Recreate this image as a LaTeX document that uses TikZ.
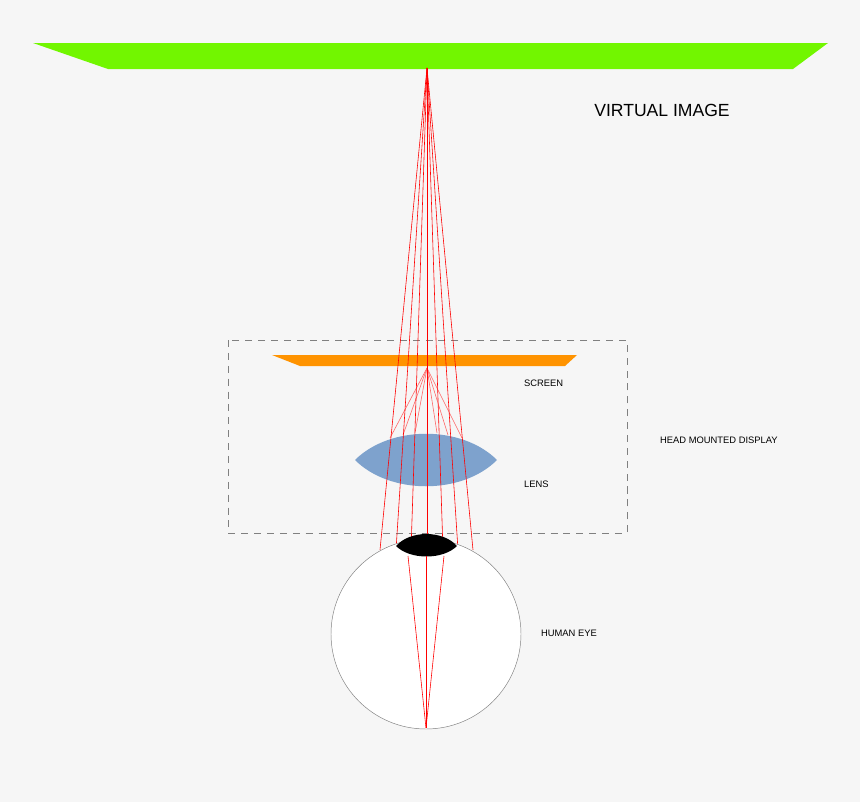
\documentclass[tikz,border=0pt]{standalone}
\usepackage{fontspec}
\setmainfont{Liberation Sans}
\tikzset{ray/.style={red,line width=0.5pt}, fan/.style={red!60,line width=0.5pt}, lbl/.style={font=\fontsize{8pt}{9pt}\selectfont}}
\begin{document}
\begin{tikzpicture}[x=0.03cm,y=-0.03cm]
  \fill[gray!7] (0,0) rectangle (860,802);
  \useasboundingbox (0,0) rectangle (860,802);
  % virtual image and screen
  \fill[green!55!lime!80!black!30!green!60!yellow] (33,43) -- (828,43) -- (793,69) -- (108,69) -- cycle;
  \fill[orange!85!yellow] (272,355) -- (577,355) -- (565,366) -- (300,366) -- cycle;
  \draw[gray,dashed,dash pattern=on 6pt off 5pt] (228,340) rectangle (627,533);
  \coordinate (vi) at (427,68);
  \coordinate (sp) at (427,368);
  % lens
  \fill[blue!30!gray!80!cyan!70] (355,460) .. controls (390,425) and (462,425) .. (497,460)
    .. controls (462,495) and (390,495) .. (355,460) -- cycle;
  % fan from screen point
  \foreach \x/\y in {390/438,403/435,415/433,437/433,448/435,462/438}
    \draw[fan] (sp) -- (\x,\y);
  % rays from the virtual image
  \foreach \x in {380,396,411,427,443,458,473}
    \draw[ray] (vi) -- (\x,550);
  % eye
  \draw[gray,fill=white] (426,634) circle (95);
  \fill[black] (396,546) .. controls (410,530) and (443,530) .. (457,546)
    .. controls (443,560) and (410,560) .. (396,546) -- cycle;
  \coordinate (fp) at (426,728);
  \foreach \x in {408,426,444}
    \draw[ray] (\x,556) -- (fp);
  % labels
  \node[font=\fontsize{15pt}{17pt}\selectfont] (t1) at (662,110) {VIRTUAL IMAGE};
  \node[lbl,anchor=west] (t2) at (520,383) {SCREEN};
  \node[lbl,anchor=west] (t3) at (520,484) {LENS};
  \node[lbl,anchor=west] (t4) at (656,440) {HEAD MOUNTED DISPLAY};
  \node[lbl,anchor=west] (t5) at (537,633) {HUMAN EYE};
\end{tikzpicture}
\end{document}
